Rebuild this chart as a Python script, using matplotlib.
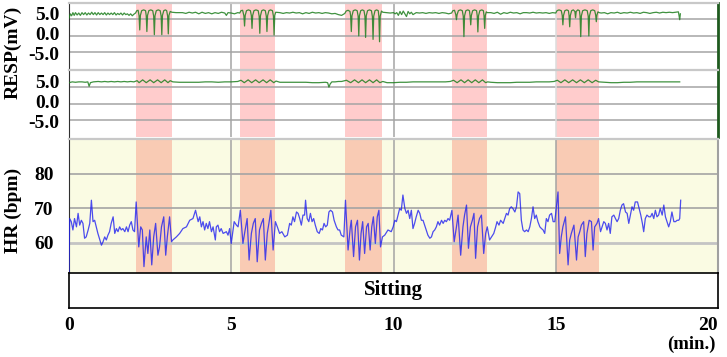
import matplotlib
matplotlib.use("Agg")
import matplotlib.pyplot as plt
import numpy as np

plt.rcParams['font.family'] = ['Liberation Serif', 'DejaVu Serif']
plt.rcParams['font.weight'] = 'bold'

# ---------------- data ----------------
bands = [(2.05, 3.16), (5.26, 6.36), (8.50, 9.66), (11.79, 12.89), (15.00, 16.32)]

resp1_t = [0.00, 0.04, 0.08, 0.12, 0.16, 0.20, 0.25, 0.30, 0.35, 0.40, 0.45, 0.50, 0.55, 0.60, 0.65,
           0.70, 0.75, 0.80, 0.85, 0.90, 0.95, 1.00, 1.05, 1.10, 1.15, 1.20, 1.25, 1.30, 1.35, 1.40,
           1.45, 1.50, 1.55, 1.60, 1.65, 1.70, 1.75, 1.80, 1.85, 1.90, 1.95, 2.00, 2.05,
           2.09, 2.13, 2.16, 2.18, 2.20, 2.24, 2.30, 2.36, 2.38, 2.40, 2.42, 2.46, 2.52, 2.58, 2.61,
           2.63, 2.65, 2.69, 2.75, 2.81, 2.84, 2.86, 2.88, 2.92, 2.97, 3.01, 3.04, 3.06, 3.08, 3.12, 3.17,
           3.30, 3.50, 3.60, 3.70, 3.80, 3.90, 4.00, 4.10, 4.20, 4.30, 4.40, 4.50, 4.60, 4.70, 4.80,
           4.85, 4.90, 5.00, 5.10, 5.20, 5.26,
           5.30, 5.35, 5.39, 5.41, 5.43, 5.47, 5.53, 5.59, 5.62, 5.64, 5.66, 5.70, 5.76, 5.83, 5.86,
           5.88, 5.90, 5.94, 5.99, 6.05, 6.08, 6.10, 6.12, 6.16, 6.21, 6.27, 6.30, 6.32, 6.34, 6.37,
           6.50, 6.60, 6.70, 6.80, 6.90, 7.00, 7.10, 7.20, 7.30, 7.40, 7.50, 7.60, 7.70, 7.80, 7.90,
           8.00, 8.10, 8.20, 8.30, 8.40, 8.50,
           8.54, 8.60, 8.66, 8.68, 8.70, 8.72, 8.76, 8.82, 8.88, 8.91, 8.93, 8.95, 8.99, 9.04, 9.09,
           9.12, 9.14, 9.16, 9.20, 9.26, 9.32, 9.35, 9.37, 9.39, 9.43, 9.48, 9.53, 9.55, 9.57, 9.59,
           9.63, 9.67,
           9.80, 9.90, 10.00, 10.05, 10.10, 10.15, 10.20, 10.25, 10.30, 10.35, 10.40, 10.45, 10.50,
           10.55, 10.60, 10.70, 10.80, 10.90, 11.00, 11.10, 11.20, 11.30, 11.40, 11.50, 11.60, 11.70, 11.79,
           11.83, 11.88, 11.92, 11.94, 11.96, 12.00, 12.06, 12.12, 12.15, 12.17, 12.19, 12.23, 12.29,
           12.34, 12.36, 12.38, 12.40, 12.44, 12.50, 12.56, 12.58, 12.60, 12.62, 12.66, 12.72, 12.77,
           12.79, 12.81, 12.83, 12.86, 12.89,
           13.00, 13.10, 13.20, 13.30, 13.40, 13.50, 13.60, 13.70, 13.80, 13.90, 14.00, 14.10, 14.20,
           14.30, 14.40, 14.50, 14.60, 14.70, 14.80, 14.90, 15.00,
           15.04, 15.10, 15.17, 15.20, 15.22, 15.24, 15.28, 15.34, 15.39, 15.41, 15.43, 15.45, 15.49,
           15.54, 15.59, 15.61, 15.63, 15.68, 15.73, 15.75, 15.77, 15.79, 15.83, 15.90, 15.97, 16.00,
           16.02, 16.04, 16.08, 16.14, 16.20, 16.23, 16.25, 16.27, 16.30, 16.34,
           16.40, 16.50, 16.60, 16.70, 16.80, 16.90, 17.00, 17.10, 17.20, 17.30, 17.40, 17.50, 17.60,
           17.70, 17.80, 17.90, 18.00, 18.10, 18.20, 18.30, 18.40, 18.50, 18.60, 18.70, 18.78, 18.82, 18.84]
resp1_v = [3.9, 5.0, 4.5, 5.3, 4.6, 5.3, 4.7, 5.2, 4.6, 5.3, 4.8, 5.3, 4.7, 5.2, 4.8,
           5.4, 4.8, 5.3, 4.7, 5.3, 4.8, 5.2, 4.8, 5.3, 4.7, 5.2, 4.8, 5.2, 4.8, 5.3,
           4.7, 5.1, 4.8, 5.2, 4.7, 5.2, 4.8, 5.0, 4.6, 5.0, 4.5, 4.9, 5.2,
           5.8, 5.9, 4.5, 0.9, 4.6, 5.8, 6.0, 5.8, 4.5, 0.5, 4.6, 5.8, 6.0, 5.8, 4.4,
           -0.3, 4.5, 5.8, 6.0, 5.8, 4.4, -0.3, 4.6, 5.8, 6.0, 5.8, 4.4, -0.1, 4.6, 5.6, 5.4,
           5.3, 5.3, 5.1, 5.4, 5.2, 5.4, 5.0, 5.4, 5.1, 5.3, 5.0, 5.3, 5.1, 5.4, 5.2,
           4.6, 5.3, 5.2, 5.0, 5.3, 5.2,
           5.8, 5.9, 4.5, 1.9, 4.6, 5.8, 6.0, 5.8, 4.5, 1.3, 4.6, 5.8, 6.0, 5.8, 4.4,
           0.05, 4.5, 5.8, 6.0, 5.8, 4.4, 0.5, 4.5, 5.8, 6.0, 5.8, 4.4, -0.4, 4.6, 5.4,
           5.3, 5.1, 5.3, 5.2, 5.4, 5.2, 5.3, 5.0, 5.3, 5.1, 5.4, 5.2, 5.3, 5.1, 5.3,
           5.2, 5.0, 5.1, 4.8, 4.6, 5.1,
           5.7, 5.9, 5.6, 4.4, 0.5, 4.5, 5.8, 6.0, 5.8, 4.4, -0.6, 4.5, 5.8, 6.0, 5.8,
           4.4, -1.0, 4.5, 5.8, 6.0, 5.8, 4.3, -1.5, 4.4, 5.8, 6.0, 5.8, 4.3, -2.1, 4.4,
           5.7, 5.4,
           5.3, 5.2, 5.3, 5.0, 5.3, 4.6, 5.6, 4.8, 5.7, 5.0, 4.3, 5.6, 5.0,
           5.4, 4.8, 5.3, 5.2, 5.3, 5.1, 5.3, 5.2, 5.3, 5.1, 5.3, 5.2, 5.0, 5.2,
           5.8, 5.9, 4.8, 3.5, 4.8, 5.8, 6.0, 5.8, 4.4, -0.8, 4.5, 5.8, 6.0,
           5.8, 4.5, 2.2, 4.6, 5.8, 6.0, 5.8, 4.5, 0.4, 4.5, 5.8, 6.0, 5.8,
           4.5, 1.3, 4.6, 5.5, 5.3,
           5.3, 5.1, 5.4, 4.9, 5.3, 5.1, 5.4, 5.2, 5.3, 5.0, 5.3, 5.3, 5.2,
           5.4, 5.2, 5.3, 5.2, 5.3, 5.1, 5.3, 5.2,
           5.8, 6.0, 5.8, 4.6, 2.2, 4.6, 5.8, 6.0, 5.8, 4.6, 1.7, 4.6, 5.8,
           6.0, 5.6, 4.0, 5.6, 6.0, 5.8, 4.4, -0.8, 4.5, 5.8, 6.0, 5.8, 4.4,
           -0.6, 4.5, 5.8, 6.0, 5.8, 4.7, 3.0, 4.7, 5.5, 5.3,
           5.2, 5.3, 5.0, 5.3, 5.2, 5.4, 5.1, 5.3, 5.2, 5.4, 5.2, 5.3, 5.1,
           5.4, 5.3, 5.1, 5.3, 5.4, 5.2, 5.4, 5.3, 5.4, 5.3, 5.4, 5.5, 3.5, 5.0]

resp2_t = [0.00, 0.10, 0.20, 0.30, 0.40, 0.50, 0.58, 0.62, 0.66, 0.75, 0.90, 1.00, 1.10, 1.20, 1.30,
           1.40, 1.50, 1.60, 1.70, 1.80, 1.90, 2.00,
           2.10, 2.16, 2.27, 2.38, 2.50, 2.61, 2.73, 2.84, 2.95, 3.05, 3.12, 3.20,
           3.40, 3.60, 3.80, 4.00, 4.20, 4.40, 4.60, 4.80, 5.00, 5.20,
           5.30, 5.40, 5.52, 5.63, 5.75, 5.86, 5.98, 6.09, 6.20, 6.31, 6.38,
           6.50, 6.70, 6.90, 7.10, 7.30, 7.50, 7.70, 7.90, 7.97, 8.01, 8.05, 8.10, 8.20, 8.30, 8.40,
           8.55, 8.68, 8.80, 8.92, 9.03, 9.14, 9.26, 9.37, 9.48, 9.58, 9.67,
           9.80, 10.00, 10.20, 10.40, 10.60, 10.80, 11.00, 11.20, 11.40, 11.60, 11.75,
           11.85, 11.96, 12.08, 12.19, 12.30, 12.41, 12.52, 12.63, 12.74, 12.84, 12.90,
           13.00, 13.20, 13.40, 13.60, 13.80, 14.00, 14.20, 14.40, 14.60, 14.80, 14.95,
           15.05, 15.16, 15.28, 15.40, 15.52, 15.64, 15.76, 15.88, 16.00, 16.12, 16.23, 16.32,
           16.50, 16.70, 16.90, 17.10, 17.30, 17.50, 17.70, 17.90, 18.10, 18.30, 18.50, 18.70, 18.82]
resp2_v = [4.6, 4.8, 4.7, 4.8, 4.8, 4.7, 4.8, 3.7, 4.6, 4.8, 4.9, 4.8, 4.9, 4.8, 4.9,
           4.8, 4.9, 4.8, 4.9, 4.8, 4.9, 4.8,
           5.1, 4.6, 5.3, 4.6, 5.3, 4.6, 5.3, 4.6, 5.3, 4.6, 5.1, 4.8,
           4.7, 4.7, 4.7, 4.7, 4.8, 4.8, 4.7, 4.8, 4.8, 4.9,
           5.2, 4.6, 5.3, 4.6, 5.3, 4.6, 5.3, 4.6, 5.3, 4.6, 5.0,
           4.7, 4.7, 4.7, 4.7, 4.7, 4.6, 4.6, 4.7, 4.6, 3.5, 4.3, 4.8, 4.8, 4.9, 4.9,
           5.2, 4.6, 5.3, 4.6, 5.3, 4.6, 5.3, 4.6, 5.3, 4.6, 4.9,
           4.6, 4.6, 4.7, 4.7, 4.8, 4.8, 4.8, 4.8, 4.8, 4.8, 4.9,
           5.2, 4.6, 5.3, 4.6, 5.3, 4.6, 5.3, 4.6, 5.3, 4.6, 4.8,
           4.7, 4.6, 4.6, 4.6, 4.7, 4.7, 4.7, 4.8, 4.8, 4.8, 4.9,
           5.2, 4.6, 5.3, 4.6, 5.3, 4.6, 5.3, 4.6, 5.3, 4.6, 5.2, 4.8,
           4.7, 4.6, 4.6, 4.7, 4.7, 4.8, 4.8, 4.8, 4.8, 4.8, 4.8, 4.8, 4.8]

hr_t = [0.00, 0.02, 0.07, 0.12, 0.17, 0.23, 0.28, 0.33, 0.38, 0.43, 0.48, 0.53, 0.59, 0.64, 0.69,
        0.74, 0.79, 0.84, 0.89, 0.95, 1.00, 1.05, 1.10, 1.15, 1.20, 1.25, 1.30, 1.36, 1.41, 1.46,
        1.51, 1.56, 1.61, 1.66, 1.72, 1.77, 1.82, 1.87, 1.92, 1.97, 2.02, 2.07, 2.15, 2.21, 2.26,
        2.31, 2.38, 2.43, 2.49, 2.55, 2.61, 2.67, 2.74, 2.79, 2.85, 2.92, 2.98, 3.03, 3.10, 3.16,
        3.20, 3.31, 3.41, 3.51, 3.62, 3.72, 3.82, 3.90, 3.98, 4.03, 4.08, 4.13, 4.18, 4.23, 4.28,
        4.33, 4.39, 4.44, 4.51, 4.54, 4.59, 4.64, 4.69, 4.75,
        4.85, 4.90, 4.95, 5.00, 5.05, 5.09, 5.16, 5.21, 5.28, 5.36, 5.41, 5.49, 5.55, 5.62, 5.68,
        5.74, 5.80, 5.87, 5.93, 5.99, 6.05, 6.11, 6.16, 6.22, 6.29, 6.36, 6.42, 6.49, 6.56, 6.65,
        6.73, 6.80, 6.85, 6.90, 6.95, 7.01, 7.06, 7.11, 7.16, 7.21, 7.26, 7.29, 7.34, 7.39, 7.44,
        7.49, 7.54, 7.59, 7.65, 7.71, 7.76, 7.81, 7.86, 7.91, 7.96, 8.01, 8.06, 8.12, 8.17, 8.24,
        8.29, 8.34, 8.39, 8.47, 8.52, 8.60, 8.67, 8.70, 8.77, 8.83, 8.89, 8.95, 9.00, 9.05, 9.11,
        9.17, 9.22, 9.28, 9.33, 9.38, 9.44, 9.50, 9.55, 9.60, 9.66, 9.73, 9.83, 9.93, 9.99,
        10.04, 10.09, 10.14, 10.19, 10.24, 10.29, 10.35, 10.40, 10.45, 10.50, 10.55, 10.60, 10.65,
        10.70, 10.76, 10.81, 10.86, 10.91, 10.96, 11.01, 11.06, 11.12, 11.17, 11.22, 11.27, 11.32,
        11.37, 11.42, 11.48, 11.53, 11.58, 11.63, 11.68, 11.73, 11.80, 11.87, 11.94, 11.99, 12.07,
        12.14, 12.19, 12.25, 12.31, 12.37, 12.43, 12.48, 12.53, 12.59, 12.65, 12.71, 12.78, 12.84,
        12.89, 12.96, 13.02, 13.09, 13.15, 13.19, 13.25, 13.30, 13.38, 13.43, 13.48, 13.53, 13.58,
        13.63, 13.68, 13.74, 13.79, 13.84, 13.89, 13.94, 13.99, 14.04, 14.10, 14.15, 14.20, 14.25,
        14.30, 14.35, 14.40, 14.45, 14.51, 14.56, 14.61, 14.66, 14.71, 14.76, 14.81, 14.87, 14.92,
        14.97, 15.07, 15.12, 15.17, 15.22, 15.30, 15.38, 15.43, 15.48, 15.56, 15.64, 15.69, 15.74,
        15.79, 15.86, 15.91, 15.96, 16.03, 16.10, 16.15, 16.20, 16.27, 16.32, 16.38, 16.43, 16.48,
        16.53, 16.58, 16.63, 16.68, 16.73, 16.79, 16.84, 16.89, 16.94, 16.99, 17.04, 17.09, 17.15,
        17.20, 17.25, 17.30, 17.35, 17.40, 17.45, 17.52, 17.57, 17.62, 17.67, 17.71, 17.76, 17.81,
        17.87, 17.92, 17.97, 18.02, 18.07, 18.12, 18.17, 18.22, 18.28, 18.33, 18.38, 18.43, 18.48,
        18.53, 18.58, 18.64, 18.69, 18.74, 18.79, 18.82, 18.85]
hr_v = [51.0, 67.0, 66.1, 63.7, 67.0, 64.6, 68.5, 65.1, 66.5, 65.6, 61.3, 61.7, 63.7, 65.6, 72.3,
        66.1, 66.5, 64.6, 62.7, 60.8, 59.3, 60.3, 61.7, 60.8, 62.2, 63.2, 65.6, 67.5, 62.7, 64.1,
        63.2, 64.6, 63.7, 64.1, 63.2, 64.6, 63.2, 65.1, 66.1, 63.7, 63.2, 71.8, 58.8, 64.6, 63.7,
        53.1, 61.7, 56.9, 63.7, 53.6, 61.7, 65.6, 56.4, 58.8, 64.6, 67.5, 56.4, 61.7, 67.5, 60.3,
        60.8, 61.7, 62.7, 64.1, 64.6, 66.5, 67.0, 69.4, 66.1, 67.5, 64.6, 66.1, 63.7, 65.6, 64.1,
        66.1, 63.2, 64.6, 60.8, 64.6, 65.1, 63.2, 64.1, 62.7,
        63.2, 62.2, 64.1, 59.8, 63.2, 66.1, 65.1, 64.6, 69.4, 59.8, 62.7, 67.0, 55.0, 62.7, 65.6,
        67.0, 54.5, 63.7, 65.6, 67.0, 55.0, 62.7, 65.6, 69.4, 57.9, 66.1, 64.6, 62.7, 63.2, 61.7,
        62.2, 65.6, 65.1, 67.5, 66.1, 68.9, 68.5, 67.0, 65.1, 68.0, 68.0, 72.3, 67.0, 66.1, 68.5,
        66.1, 67.0, 65.1, 63.2, 62.7, 64.1, 63.7, 65.6, 64.6, 65.1, 68.9, 69.4, 68.9, 66.5, 64.6,
        63.7, 63.7, 62.2, 61.7, 72.3, 57.9, 64.6, 66.5, 56.0, 64.6, 66.5, 55.0, 62.7, 66.1, 56.9,
        64.6, 65.6, 57.9, 64.6, 67.5, 59.8, 67.5, 69.4, 58.8, 61.7, 62.2, 63.7, 63.2, 64.6,
        66.5, 66.1, 68.0, 69.9, 69.4, 73.8, 69.9, 68.5, 69.4, 67.0, 69.4, 64.1, 65.6,
        67.5, 69.4, 68.5, 66.5, 66.5, 65.1, 63.7, 62.2, 61.3, 61.7, 63.2, 63.7, 64.6,
        66.1, 65.1, 66.5, 65.6, 66.5, 66.1, 67.0, 66.5, 69.4, 60.3, 64.6, 68.0, 56.4,
        64.6, 68.0, 70.9, 58.4, 64.6, 66.5, 68.5, 55.5, 64.6, 67.0, 68.0, 56.9, 62.7,
        64.6, 60.8, 61.7, 62.7, 64.6, 66.1, 65.1, 66.5, 65.6, 67.0, 68.5, 68.0, 69.9,
        70.4, 69.9, 68.9, 70.4, 74.7, 74.2, 66.5, 63.7, 63.2, 63.7, 63.2, 64.6, 67.0,
        70.4, 67.0, 68.0, 66.1, 64.6, 64.1, 63.7, 62.7, 67.0, 66.1, 68.0, 68.5, 66.1,
        66.1, 74.7, 56.9, 61.7, 64.6, 67.5, 53.6, 60.8, 62.7, 65.1, 55.0, 61.7, 63.2,
        65.1, 66.1, 56.0, 62.7, 66.5, 66.1, 57.9, 64.6, 65.6, 67.0, 63.2, 64.6, 66.1,
        65.6, 63.7, 65.6, 62.7, 67.5, 68.0, 67.0, 66.1, 67.0, 69.4, 70.9, 71.3, 68.9,
        68.5, 65.6, 68.0, 70.4, 69.4, 71.8, 71.8, 69.9, 68.0, 65.6, 63.2, 67.0, 68.0,
        67.5, 67.5, 68.5, 67.0, 69.4, 67.5, 68.0, 69.9, 68.0, 70.9, 67.5, 66.1, 64.6,
        66.1, 68.9, 66.1, 66.1, 66.5, 66.5, 67.0, 72.3]

x_ticks = [0, 5, 10, 15, 20]
resp_ticks = [5.0, 0.0, -5.0]
hr_ticks = [60, 70, 80]
activity = "Sitting"

# ---------------- figure ----------------
W, H = 727, 357
fig = plt.figure(figsize=(W / 100, H / 100), dpi=100)
fig.patch.set_facecolor('white')

left = 69 / W
width = (718 - 69) / W


def fy(top, bottom):
    return [left, 1 - bottom / H, width, (bottom - top) / H]


ax1 = fig.add_axes(fy(3, 68.5))
ax2 = fig.add_axes(fy(70, 137))
ax3 = fig.add_axes(fy(139, 272.5))
ax4 = fig.add_axes(fy(272.5, 307.5))

grid_c = '#A4A4A4'
pink = '#FFCCCC'
salmon = '#F9CBB4'
green = '#1E7F1E'

for ax in (ax1, ax2, ax3, ax4):
    ax.set_xlim(0, 20)
    ax.set_xticks(x_ticks)
    ax.tick_params(axis='both', length=0)

for ax, sig_t, sig_v in ((ax1, resp1_t, resp1_v), (ax2, resp2_t, resp2_v)):
    ax.set_facecolor('white')
    ax.set_ylim(-8.9, 7.75)
    ax.set_yticks(resp_ticks)
    ax.set_yticklabels(['5.0', '0.0', '-5.0'], fontsize=14, fontweight='bold')
    ax.tick_params(axis='y', pad=7)
    ax.set_xticklabels([])
    for (a, b) in bands:
        ax.axvspan(a, b, color=pink, lw=0, zorder=0)
    for fr in (0.25, 0.5, 0.75):
        ax.plot([0, 1], [fr, fr], color=grid_c, lw=1.1, transform=ax.transAxes, zorder=1)
    for xv in (5, 10):
        ax.axvline(xv, color=grid_c, lw=1.1, zorder=1)
    ax.axvline(15, color='#DDDDDD', lw=1.1, zorder=1)
    ax.plot(sig_t, sig_v, color=green, lw=0.9, alpha=0.85, zorder=3)
    ax.spines['top'].set_color('#C8C8C8')
    ax.spines['top'].set_linewidth(1.6)
    ax.spines['bottom'].set_visible(False)
    ax.spines['left'].set_color('#303030')
    ax.spines['right'].set_color('#1E5A1E')
    ax.spines['right'].set_linewidth(2.0)

# HR panel
ax3.set_facecolor('#FAFBE3')
ax3.set_ylim(51.4, 90.0)
ax3.set_yticks(hr_ticks)
ax3.set_yticklabels([str(v) for v in hr_ticks], fontsize=14, fontweight='bold')
ax3.tick_params(axis='y', pad=11)
ax3.set_xticklabels([])
for (a, b) in bands:
    ax3.axvspan(a, b, color=salmon, lw=0, zorder=0)
for yv in (70, 80):
    ax3.axhline(yv, color=grid_c, lw=1.2, zorder=1)
ax3.axhline(60, color='#C4C4C4', lw=2.0, zorder=1)
for xv in (5, 10, 15):
    ax3.axvline(xv, color=grid_c, lw=1.1, zorder=1)
ax3.plot(hr_t, hr_v, color='#2020F0', lw=0.9, alpha=0.8, zorder=3)
ax3.spines['top'].set_color('#C8C8C8')
ax3.spines['top'].set_linewidth(1.6)
ax3.spines['bottom'].set_visible(False)
ax3.spines['left'].set_color('#303030')
ax3.spines['right'].set_color('#A0A0A0')
ax3.spines['right'].set_linewidth(1.5)

# Activity panel
ax4.set_facecolor('white')
ax4.set_ylim(0, 1)
ax4.set_yticks([])
ax4.set_xticklabels([str(v) for v in x_ticks], fontsize=14, fontweight='bold')
ax4.tick_params(axis='x', pad=7)
ax4.get_xticklabels()[-1].set_horizontalalignment('right')
for s in ax4.spines.values():
    s.set_color('black')
    s.set_linewidth(1.2)
ax4.text(0.5, 0.5, activity, transform=ax4.transAxes, ha='center', va='center',
         fontsize=15, fontweight='bold')

fig.text(13 / W, 1 - 52 / H, 'RESP(mV)', rotation=90, ha='center', va='center',
         fontsize=14, fontweight='bold')
fig.text(13 / W, 1 - 210 / H, 'HR (bpm)', rotation=90, ha='center', va='center',
         fontsize=14, fontweight='bold')
fig.text(716 / W, 1 - 344 / H, '(min.)', ha='right', va='center',
         fontsize=13.5, fontweight='bold')

fig.savefig('out.png', dpi=100, facecolor='white')
